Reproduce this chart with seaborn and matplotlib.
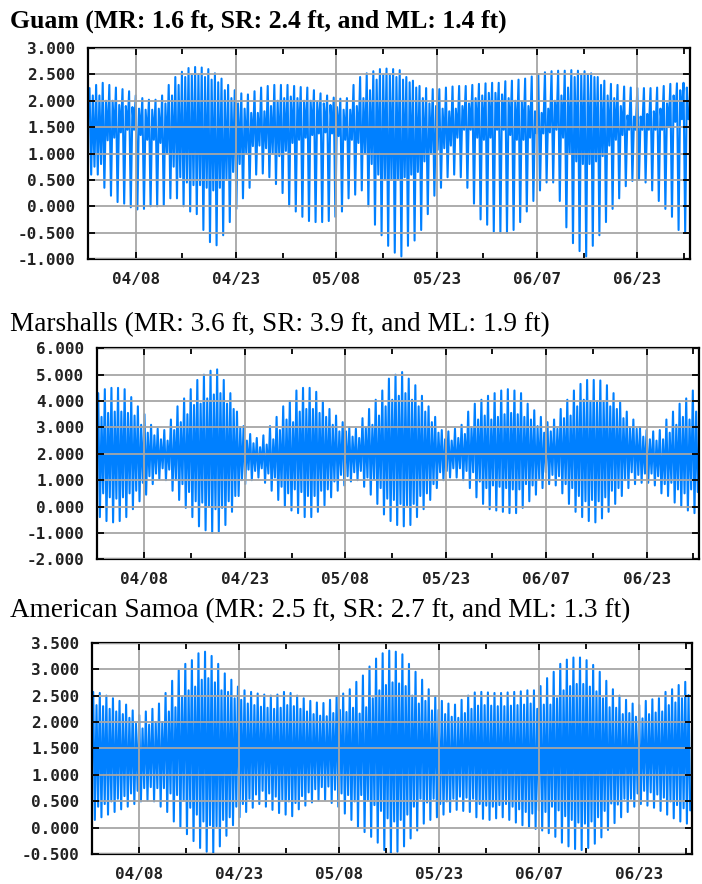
import numpy as np
import pandas as pd
import matplotlib
matplotlib.use("Agg")
import matplotlib.pyplot as plt
import seaborn as sns

sns.set_theme(style="white")

# ── Data: daily tide extremes (ft), day 0 = 04/01 ... day 90 = 06/30 ─────────
# hh = higher high, ll = lower low, lh = lower high, hl = higher low
guam_hh = [2.24, 2.30, 2.34, 2.30, 2.25, 2.22, 2.18, 2.10, 2.05, 2.02,
           2.02, 2.10, 2.30, 2.45, 2.55, 2.62, 2.64, 2.63, 2.60, 2.52,
           2.42, 2.30, 2.20, 2.14, 2.12, 2.18, 2.25, 2.28, 2.30, 2.30,
           2.30, 2.28, 2.26, 2.25, 2.20, 2.14, 2.10, 2.06, 2.04, 2.05,
           2.30, 2.45, 2.52, 2.56, 2.60, 2.61, 2.60, 2.58, 2.45, 2.38,
           2.28, 2.24, 2.22, 2.22, 2.25, 2.27, 2.28, 2.28, 2.30, 2.32,
           2.33, 2.34, 2.34, 2.37, 2.38, 2.40, 2.42, 2.46, 2.50, 2.54,
           2.56, 2.57, 2.57, 2.58, 2.57, 2.56, 2.52, 2.45, 2.38, 2.32,
           2.30, 2.27, 2.25, 2.24, 2.24, 2.24, 2.25, 2.28, 2.32, 2.33,
           2.34]
guam_ll = [0.60, 0.60, 0.35, 0.20, 0.08, 0.05, -0.02, -0.06, -0.05, 0.00,
           0.00, 0.02, 0.15, 0.15, 0.00, -0.10, -0.15, -0.45, -0.68, -0.74,
           -0.55, -0.30, -0.05, 0.15, 0.35, 0.60, 0.62, 0.55, 0.42, 0.25,
           0.00, -0.10, -0.20, -0.28, -0.30, -0.30, -0.28, -0.20, -0.10, 0.15,
           0.22, 0.30, 0.00, -0.35, -0.55, -0.75, -0.88, -0.95, -0.75, -0.65,
           -0.45, -0.15, 0.20, 0.35, 0.55, 0.60, 0.55, 0.35, 0.05, -0.25,
           -0.35, -0.48, -0.50, -0.50, -0.45, -0.30, -0.10, 0.10, 0.30, 0.45,
           0.45, 0.10, -0.40, -0.70, -0.85, -0.95, -0.75, -0.55, -0.30, -0.05,
           0.15, 0.38, 0.48, 0.50, 0.45, 0.30, 0.10, -0.05, -0.20, -0.45,
           -0.50]
guam_lh = [2.10, 2.10, 2.00, 2.00, 1.92, 1.90, 1.88, 1.85, 1.83, 1.83,
           1.85, 1.95, 2.10, 2.30, 2.45, 2.50, 2.50, 2.45, 2.40, 2.35,
           2.20, 2.05, 1.95, 1.85, 1.77, 1.77, 1.80, 1.90, 2.00, 2.05,
           2.08, 2.05, 2.00, 2.00, 1.98, 1.95, 1.92, 1.88, 1.83, 1.83,
           1.90, 2.05, 2.20, 2.40, 2.50, 2.50, 2.45, 2.40, 2.35, 2.25,
           2.05, 1.95, 1.90, 1.85, 1.80, 1.85, 1.90, 1.95, 2.05, 2.10,
           2.15, 2.15, 2.12, 2.05, 2.00, 1.98, 1.90, 1.80, 1.77, 1.85,
           2.00, 2.10, 2.25, 2.45, 2.50, 2.50, 2.45, 2.30, 2.10, 2.05,
           1.90, 1.72, 1.70, 1.70, 1.75, 1.80, 1.85, 1.95, 2.10, 2.20,
           2.25]
guam_hl = [0.75, 0.80, 1.25, 1.30, 1.40, 1.45, 1.45, 1.35, 1.26, 1.26,
           1.20, 1.00, 0.75, 0.55, 0.45, 0.40, 0.40, 0.35, 0.30, 0.35,
           0.50, 0.65, 0.80, 1.00, 1.14, 1.15, 1.10, 1.00, 0.95, 1.05,
           1.20, 1.26, 1.30, 1.35, 1.38, 1.40, 1.38, 1.33, 1.26, 1.26,
           1.20, 1.00, 0.80, 0.60, 0.50, 0.50, 0.50, 0.55, 0.60, 0.65,
           0.85, 1.00, 1.07, 1.10, 1.15, 1.30, 1.45, 1.45, 1.30, 1.26,
           1.30, 1.45, 1.45, 1.35, 1.26, 1.26, 1.30, 1.38, 1.38, 1.40,
           1.45, 1.30, 1.00, 0.85, 0.80, 0.80, 0.85, 0.95, 1.15, 1.26,
           1.35, 1.45, 1.45, 1.45, 1.45, 1.45, 1.45, 1.50, 1.60, 1.65,
           1.65]

marsh_hh = [4.30, 4.45, 4.50, 4.50, 4.45, 4.15, 3.80, 3.50, 3.10, 2.95,
            2.90, 3.30, 3.80, 4.10, 4.45, 4.80, 5.00, 5.15, 5.20, 4.80,
            4.30, 3.60, 3.05, 2.75, 2.60, 2.70, 3.05, 3.40, 3.80, 4.00,
            4.40, 4.50, 4.50, 4.35, 4.00, 3.70, 3.45, 3.20, 3.00, 2.95,
            3.35, 3.70, 4.05, 4.40, 4.85, 5.00, 5.10, 4.85, 4.60, 4.20,
            3.80, 3.40, 2.90, 2.85, 2.95, 3.10, 3.60, 3.90, 4.05, 4.20,
            4.30, 4.40, 4.45, 4.40, 4.30, 3.90, 3.65, 3.40, 3.20, 3.30,
            3.70, 4.05, 4.40, 4.65, 4.80, 4.80, 4.78, 4.60, 4.30, 3.95,
            3.60, 3.30, 3.00, 2.90, 2.85, 2.90, 3.30, 3.60, 3.90, 4.10,
            4.40]
marsh_ll = [-0.40, -0.55, -0.60, -0.55, -0.40, -0.10, 0.20, 0.45, 0.85, 1.05,
            1.00, 0.60, 0.25, -0.05, -0.40, -0.75, -0.90, -1.00, -0.95, -0.70,
            -0.20, 0.40, 0.85, 1.00, 1.10, 0.90, 0.60, 0.25, 0.00, -0.15,
            -0.25, -0.40, -0.40, -0.20, 0.05, 0.35, 0.60, 0.80, 0.95, 1.00,
            0.75, 0.45, 0.10, -0.30, -0.55, -0.70, -0.75, -0.70, -0.40, -0.10,
            0.25, 0.70, 1.00, 1.10, 1.10, 1.00, 0.70, 0.35, 0.10, -0.10,
            -0.15, -0.20, -0.25, -0.25, -0.05, 0.20, 0.45, 0.70, 0.85, 0.80,
            0.50, 0.10, -0.20, -0.40, -0.55, -0.60, -0.45, -0.20, 0.10, 0.40,
            0.70, 0.85, 0.90, 0.90, 0.80, 0.50, 0.40, 0.15, 0.00, -0.15,
            -0.25]
marsh_lh = [3.40, 3.55, 3.60, 3.60, 3.55, 3.45, 3.10, 2.80, 2.70, 2.55,
            2.50, 2.90, 3.20, 3.50, 3.85, 3.90, 4.10, 4.25, 4.30, 3.90,
            3.70, 3.00, 2.50, 2.40, 2.25, 2.35, 2.55, 2.90, 3.30, 3.20,
            3.60, 3.70, 3.70, 3.55, 3.40, 3.10, 2.85, 2.85, 2.65, 2.60,
            3.00, 3.10, 3.45, 3.80, 4.05, 4.20, 4.30, 4.05, 3.80, 3.60,
            3.20, 2.80, 2.55, 2.50, 2.60, 2.75, 3.00, 3.30, 3.45, 3.30,
            3.40, 3.50, 3.55, 3.50, 3.40, 3.30, 3.05, 2.80, 2.85, 2.95,
            3.35, 3.45, 3.80, 4.05, 4.00, 4.00, 4.00, 3.80, 3.70, 3.35,
            3.00, 2.95, 2.65, 2.55, 2.50, 2.55, 2.80, 3.10, 3.40, 3.30,
            3.60]
marsh_hl = [0.50, 0.35, 0.30, 0.35, 0.50, 0.60, 0.90, 1.15, 1.25, 1.45,
            1.40, 1.00, 0.85, 0.55, 0.20, 0.15, 0.00, -0.10, -0.05, 0.20,
            0.40, 1.00, 1.40, 1.35, 1.45, 1.25, 1.10, 0.75, 0.50, 0.65,
            0.55, 0.40, 0.40, 0.60, 0.65, 0.95, 1.20, 1.15, 1.30, 1.35,
            1.10, 1.05, 0.70, 0.30, 0.25, 0.10, 0.05, 0.10, 0.40, 0.50,
            0.85, 1.30, 1.35, 1.45, 1.45, 1.35, 1.30, 0.95, 0.70, 0.80,
            0.75, 0.70, 0.65, 0.65, 0.85, 0.80, 1.05, 1.30, 1.20, 1.15,
            0.85, 0.70, 0.40, 0.20, 0.25, 0.20, 0.35, 0.60, 0.70, 1.00,
            1.30, 1.20, 1.25, 1.25, 1.15, 0.85, 0.90, 0.65, 0.50, 0.65,
            0.55]

samoa_hh = [2.57, 2.55, 2.50, 2.45, 2.40, 2.33, 2.22, 2.13, 2.20, 2.25,
            2.35, 2.55, 2.78, 2.98, 3.10, 3.17, 3.30, 3.33, 3.25, 3.10,
            2.92, 2.80, 2.67, 2.60, 2.57, 2.54, 2.52, 2.50, 2.52, 2.57,
            2.55, 2.50, 2.45, 2.40, 2.37, 2.36, 2.42, 2.48, 2.54, 2.62,
            2.76, 2.88, 3.05, 3.20, 3.30, 3.35, 3.33, 3.28, 3.10, 2.95,
            2.80, 2.62, 2.48, 2.40, 2.35, 2.33, 2.42, 2.50, 2.56, 2.57,
            2.56, 2.55, 2.55, 2.56, 2.57, 2.58, 2.60, 2.60, 2.68, 2.83,
            2.95, 3.10, 3.18, 3.22, 3.22, 3.17, 3.08, 2.95, 2.78, 2.62,
            2.50, 2.42, 2.35, 2.32, 2.40, 2.43, 2.45, 2.57, 2.62, 2.70,
            2.76]
samoa_ll = [0.15, 0.20, 0.25, 0.30, 0.35, 0.40, 0.45, 0.50, 0.52, 0.50,
            0.40, 0.30, 0.12, 0.02, -0.12, -0.25, -0.38, -0.45, -0.47, -0.35,
            -0.15, 0.05, 0.20, 0.30, 0.38, 0.45, 0.40, 0.34, 0.28, 0.25,
            0.22, 0.35, 0.42, 0.48, 0.52, 0.53, 0.47, 0.40, 0.27, 0.15,
            0.02, -0.08, -0.17, -0.28, -0.42, -0.48, -0.45, -0.35, -0.20, -0.05,
            0.08, 0.15, 0.20, 0.25, 0.30, 0.34, 0.32, 0.30, 0.20, 0.17,
            0.15, 0.18, 0.20, 0.15, 0.10, 0.05, 0.02, -0.02, -0.05, -0.10,
            -0.17, -0.28, -0.35, -0.40, -0.42, -0.38, -0.30, -0.18, -0.04, 0.09,
            0.20, 0.30, 0.40, 0.45, 0.42, 0.38, 0.32, 0.25, 0.18, 0.12,
            0.08]
samoa_lh = [2.32, 2.30, 2.25, 2.20, 2.15, 2.08, 1.97, 1.88, 1.95, 2.00,
            2.00, 2.20, 2.28, 2.48, 2.60, 2.67, 2.80, 2.83, 2.75, 2.60,
            2.57, 2.45, 2.42, 2.35, 2.32, 2.29, 2.27, 2.25, 2.27, 2.32,
            2.30, 2.25, 2.20, 2.15, 2.12, 2.11, 2.17, 2.23, 2.19, 2.27,
            2.16, 2.28, 2.45, 2.60, 2.70, 2.75, 2.73, 2.68, 2.50, 2.35,
            2.40, 2.22, 2.23, 2.15, 2.10, 2.08, 2.17, 2.25, 2.31, 2.32,
            2.31, 2.30, 2.30, 2.31, 2.32, 2.33, 2.35, 2.25, 2.33, 2.33,
            2.45, 2.60, 2.68, 2.72, 2.72, 2.67, 2.58, 2.45, 2.28, 2.27,
            2.15, 2.17, 2.10, 2.07, 2.15, 2.18, 2.20, 2.32, 2.37, 2.45,
            2.51]
samoa_hl = [0.40, 0.45, 0.50, 0.55, 0.60, 0.65, 0.70, 0.75, 0.77, 0.75,
            0.75, 0.65, 0.62, 0.52, 0.38, 0.25, 0.12, 0.05, 0.03, 0.15,
            0.20, 0.40, 0.45, 0.55, 0.63, 0.70, 0.65, 0.59, 0.53, 0.50,
            0.47, 0.60, 0.67, 0.73, 0.77, 0.78, 0.72, 0.65, 0.62, 0.50,
            0.62, 0.52, 0.43, 0.32, 0.18, 0.12, 0.15, 0.25, 0.40, 0.55,
            0.48, 0.55, 0.45, 0.50, 0.55, 0.59, 0.57, 0.55, 0.45, 0.42,
            0.40, 0.43, 0.45, 0.40, 0.35, 0.30, 0.27, 0.33, 0.30, 0.40,
            0.33, 0.22, 0.15, 0.10, 0.08, 0.12, 0.20, 0.32, 0.46, 0.44,
            0.55, 0.55, 0.65, 0.70, 0.67, 0.63, 0.57, 0.50, 0.43, 0.37,
            0.33]

titles = ["Guam (MR: 1.6 ft, SR: 2.4 ft, and ML: 1.4 ft)",
          "Marshalls (MR: 3.6 ft, SR: 3.9 ft, and ML: 1.9 ft)",
          "American Samoa (MR: 2.5 ft, SR: 2.7 ft, and ML: 1.3 ft)"]
date_labels = ["04/08", "04/23", "05/08", "05/23", "06/07", "06/23"]
date_days   = [7.0, 22.2, 37.4, 52.6, 67.8, 83.0]
minor_days  = [14.07, 29.27, 44.47, 59.67, 74.87, 90.07]
guam_yticks  = [-1.0, -0.5, 0.0, 0.5, 1.0, 1.5, 2.0, 2.5, 3.0]
marsh_yticks = [-2.0, -1.0, 0.0, 1.0, 2.0, 3.0, 4.0, 5.0, 6.0]
samoa_yticks = [-0.5, 0.0, 0.5, 1.0, 1.5, 2.0, 2.5, 3.0, 3.5]

# ── Style ────────────────────────────────────────────────────────────────────
W, H = 702, 884
BLUE = "#0080ff"
GRID = "#a6a6a6"
MONO = "DejaVu Sans Mono"
SERIF = "Liberation Serif"


def tide_frame(hh, ll, lh, hl):
    # four turning points a day: high, low, second high, second low
    t = np.arange(len(hh))[:, None] + np.array([0.0, 0.25, 0.5, 0.75])
    h = np.column_stack([hh, ll, lh, hl])
    return pd.DataFrame({"day": t.ravel(), "height": h.ravel()})


panels = [
    # data, yticks, (left, top, right, bottom) px, title baseline px, weight, size
    (tide_frame(guam_hh, guam_ll, guam_lh, guam_hl), guam_yticks,
     (88, 48, 690, 259), 28, "bold", 18.5),
    (tide_frame(marsh_hh, marsh_ll, marsh_lh, marsh_hl), marsh_yticks,
     (96.7, 348.3, 699.3, 559.3), 331, "normal", 19.6),
    (tide_frame(samoa_hh, samoa_ll, samoa_lh, samoa_hl), samoa_yticks,
     (91.7, 642.7, 691.7, 854.3), 617, "normal", 19.6),
]

fig = plt.figure(figsize=(W / 100, H / 100), dpi=100)
fig.patch.set_facecolor("white")

for (df, yticks, (l, t, r, b), ty, weight, tsize), title in zip(panels, titles):
    ax = fig.add_axes([l / W, 1 - b / H, (r - l) / W, (b - t) / H])
    sns.lineplot(data=df, x="day", y="height", ax=ax, color=BLUE,
                 linewidth=1.5, estimator=None)
    ax.set_xlim(-0.23, 90.98)
    ax.set_ylim(yticks[0], yticks[-1])
    ax.set_xlabel(""); ax.set_ylabel("")
    ax.set_facecolor("white")

    ax.set_xticks(date_days)
    ax.set_xticklabels(date_labels)
    ax.set_xticks(minor_days, minor=True)
    ax.set_yticks(yticks)
    ax.set_yticklabels([f"{v:.3f}" for v in yticks])

    ax.set_axisbelow(False)
    ax.grid(True, which="major", color=GRID, linewidth=1.3)
    ax.tick_params(which="both", direction="in", color="black", width=1.3,
                   top=True, right=True, bottom=True, left=True)
    ax.tick_params(which="major", length=5)
    ax.tick_params(which="minor", length=4)
    ax.tick_params(axis="y", pad=9)
    ax.tick_params(axis="x", pad=9)
    for lab in ax.get_xticklabels() + ax.get_yticklabels():
        lab.set_fontfamily(MONO)
        lab.set_fontweight("bold")
        lab.set_fontsize(11.5)
        lab.set_color("#222222")
    for sp in ax.spines.values():
        sp.set_visible(True)
        sp.set_color("black")
        sp.set_linewidth(1.6)

    fig.text(10 / W, 1 - ty / H, title, family=SERIF, fontweight=weight,
             fontsize=tsize, color="black", ha="left", va="baseline")

fig.savefig("out.png", dpi=100, facecolor="white")
